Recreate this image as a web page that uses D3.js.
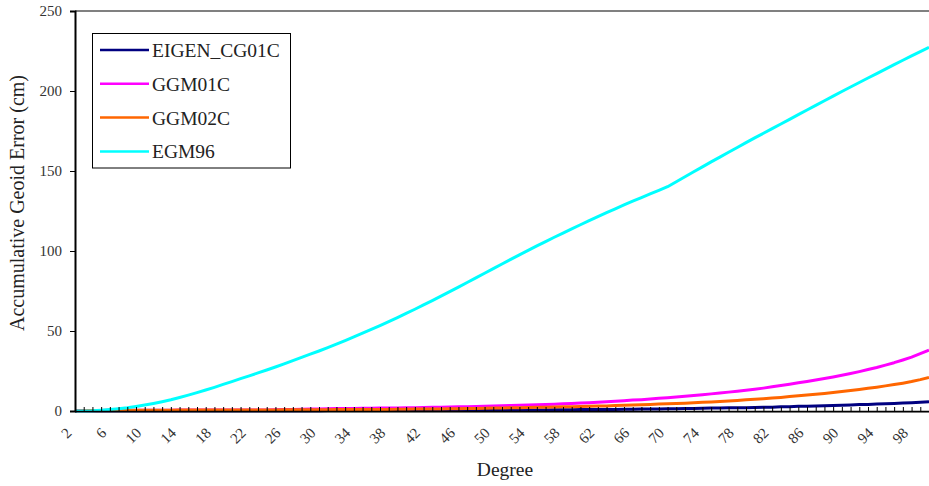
<!DOCTYPE html>
<html>
<head>
<meta charset="utf-8">
<script src="https://cdn.jsdelivr.net/npm/d3@7"></script>
<style>
  html, body { margin: 0; padding: 0; background: #fff; }
  svg { display: block; }
  svg text { font-family: "Liberation Serif", "Times New Roman", Times, serif !important; }
</style>
</head>
<body>
<svg id="chart" width="929" height="486"></svg>
<script>
// ---- data ----
const degrees = d3.range(2, 101); // 2..100
const seriesNames = ["EIGEN_CG01C", "GGM01C", "GGM02C", "EGM96"];
const seriesColors = ["#000080", "#FF00FF", "#FF6600", "#00FFFF"];

const eigen = [
  0.0,0.1,0.1,0.1,0.1,0.1,0.1,0.1,0.1,0.1,      // 2-11
  0.1,0.1,0.1,0.1,0.1,0.1,0.1,0.1,0.2,0.2,      // 12-21
  0.2,0.2,0.2,0.2,0.2,0.2,0.2,0.2,0.2,0.3,      // 22-31
  0.3,0.3,0.3,0.3,0.3,0.3,0.3,0.3,0.4,0.4,      // 32-41
  0.4,0.4,0.4,0.4,0.5,0.5,0.5,0.5,0.6,0.6,      // 42-51
  0.6,0.6,0.7,0.7,0.7,0.8,0.8,0.8,0.9,0.9,      // 52-61
  0.9,1.0,1.0,1.1,1.1,1.2,1.2,1.3,1.4,1.4,      // 62-71
  1.5,1.6,1.7,1.8,1.9,2.0,2.0,2.1,2.2,2.3,      // 72-81
  2.4,2.6,2.7,2.9,3.0,3.2,3.3,3.5,3.6,3.8,      // 82-91
  4.0,4.1,4.3,4.5,4.7,5.0,5.2,5.5,5.8           // 92-100
];
const ggm01c = [
  0.0,0.2,0.3,0.3,0.4,0.4,0.4,0.5,0.5,0.5,      // 2-11
  0.5,0.5,0.6,0.6,0.6,0.6,0.6,0.6,0.7,0.7,      // 12-21
  0.7,0.7,0.7,0.8,0.9,1.0,1.1,1.2,1.3,1.4,      // 22-31
  1.5,1.6,1.6,1.7,1.7,1.8,1.9,1.9,2.0,2.1,      // 32-41
  2.2,2.3,2.4,2.5,2.6,2.7,2.8,3.0,3.1,3.3,      // 42-51
  3.4,3.6,3.7,3.9,4.0,4.2,4.5,4.7,5.0,5.2,      // 52-61
  5.5,5.8,6.1,6.4,6.8,7.1,7.5,7.9,8.3,8.7,      // 62-71
  9.2,9.7,10.2,10.7,11.2,11.8,12.4,13.0,13.6,14.3, // 72-81
  15.1,15.9,16.7,17.6,18.5,19.4,20.3,21.3,22.3,23.4, // 82-91
  24.6,25.9,27.2,28.7,30.2,31.9,33.7,35.8,38.0  // 92-100
];
const ggm02c = [
  0.0,0.2,0.3,0.3,0.4,0.4,0.4,0.5,0.5,0.5,      // 2-11
  0.5,0.5,0.6,0.6,0.6,0.6,0.6,0.6,0.7,0.7,      // 12-21
  0.7,0.7,0.7,0.7,0.8,0.8,0.8,0.8,0.8,0.8,      // 22-31
  0.9,0.9,0.9,0.9,1.0,1.0,1.0,1.1,1.1,1.2,      // 32-41
  1.2,1.3,1.3,1.4,1.4,1.5,1.6,1.7,1.8,1.9,      // 42-51
  2.0,2.1,2.2,2.3,2.4,2.5,2.6,2.7,2.8,3.0,      // 52-61
  3.1,3.2,3.4,3.6,3.8,3.9,4.1,4.3,4.5,4.7,      // 62-71
  4.9,5.2,5.4,5.7,6.0,6.3,6.6,7.0,7.3,7.7,      // 72-81
  8.1,8.5,9.0,9.5,10.0,10.5,11.0,11.6,12.2,12.8, // 82-91
  13.5,14.2,14.9,15.7,16.5,17.4,18.4,19.6,21.0  // 92-100
];
const egm96 = [
  0.0,0.05,0.2,0.5,0.9,1.4,2.0,2.8,3.7,4.7,     // 2-11
  5.8,7.0,8.4,9.9,11.5,13.1,14.8,16.6,18.4,20.2, // 12-21
  22.0,23.8,25.6,27.5,29.5,31.5,33.5,35.5,37.5,39.6, // 22-31
  41.8,44.0,46.3,48.6,51.0,53.4,55.9,58.4,61.0,63.6, // 32-41
  66.3,69.0,71.8,74.6,77.4,80.3,83.2,86.1,89.0,91.9, // 42-51
  94.8,97.6,100.4,103.2,105.9,108.6,111.2,113.8,116.4,119.0, // 52-61
  121.5,124.0,126.4,128.8,131.1,133.4,135.7,137.9,140.2,143.3, // 62-71
  146.4,149.5,152.6,155.7,158.7,161.7,164.7,167.7,170.7,173.6, // 72-81
  176.5,179.4,182.3,185.2,188.1,191.0,193.9,196.8,199.7,202.5, // 82-91
  205.3,208.1,210.9,213.7,216.5,219.2,221.9,224.6,227.3 // 92-100
];
const seriesValues = [eigen, ggm01c, ggm02c, egm96];
const yTicks = [0, 50, 100, 150, 200, 250];
const xLabelEvery = 4;
const yTitle = "Accumulative Geoid Error (cm)";
const xTitle = "Degree";

// ---- layout ----
const FONT = "Liberation Serif, Times New Roman, serif";
const svg = d3.select("#chart");
const L = 75, R = 929, T = 11, B = 411;

const x = d3.scalePoint().domain(degrees).range([L, R]);
const y = d3.scaleLinear().domain([0, 250]).range([B, T]);

// plot area border (gray)
svg.append("line").attr("x1", L).attr("x2", R).attr("y1", T).attr("y2", T)
  .attr("stroke", "#808080").attr("stroke-width", 2);
svg.append("line").attr("x1", L).attr("x2", R).attr("y1", B + 1).attr("y2", B + 1)
  .attr("stroke", "#a0a0a0").attr("stroke-width", 2);

// series lines
const line = d3.line().x((d, i) => x(degrees[i])).y(d => y(d));
seriesValues.forEach((vals, k) => {
  svg.append("path")
    .datum(vals)
    .attr("d", line)
    .attr("fill", "none")
    .attr("stroke", seriesColors[k])
    .attr("stroke-width", 3)
    .attr("stroke-linejoin", "round");
});

// y axis
const yAxis = svg.append("g")
  .attr("transform", `translate(${L},0)`)
  .call(d3.axisLeft(y).tickValues(yTicks).tickSize(5).tickPadding(8));
yAxis.attr("font-family", FONT);
yAxis.select(".domain").attr("stroke", "#000").attr("stroke-width", 2);
yAxis.selectAll(".tick line").attr("stroke", "#000");
yAxis.selectAll("text").attr("font-size", 15).attr("fill", "#333");

// x axis
const xAxis = svg.append("g")
  .attr("transform", `translate(0,${B})`)
  .call(d3.axisBottom(x).tickSizeInner(-4).tickSizeOuter(0)
    .tickFormat(d => ((d - 2) % xLabelEvery === 0 ? d : "")));
xAxis.attr("font-family", FONT);
xAxis.select(".domain").attr("stroke", "#000").attr("stroke-width", 1.5);
xAxis.selectAll(".tick line").attr("stroke", "#000");
xAxis.selectAll("text")
  .attr("font-size", 15).attr("fill", "#333")
  .attr("x", 0).attr("y", 0).attr("dy", 0)
  .attr("text-anchor", "end")
  .attr("transform", "translate(-3,23) rotate(-45)");

// axis titles
svg.append("text")
  .attr("transform", `translate(24,203) rotate(-90)`)
  .attr("text-anchor", "middle")
  .attr("font-family", FONT)
  .attr("font-size", 20).attr("fill", "#222")
  .text(yTitle);
svg.append("text")
  .attr("x", 505).attr("y", 476)
  .attr("text-anchor", "middle")
  .attr("font-family", FONT)
  .attr("font-size", 19.5).attr("fill", "#222")
  .text(xTitle);

// legend
const lg = svg.append("g").attr("font-family", FONT);
lg.append("rect").attr("x", 92.5).attr("y", 33.5).attr("width", 198).attr("height", 134.5)
  .attr("fill", "#fff").attr("stroke", "#000").attr("stroke-width", 1);
seriesNames.forEach((name, k) => {
  const yy = 50 + k * 33.8;
  lg.append("line").attr("x1", 100).attr("x2", 149).attr("y1", yy).attr("y2", yy)
    .attr("stroke", seriesColors[k]).attr("stroke-width", 2.5);
  lg.append("text").attr("x", 152).attr("y", yy + 7)
    .attr("font-size", 19.5).attr("fill", "#222").text(name);
});
</script>
</body>
</html>
